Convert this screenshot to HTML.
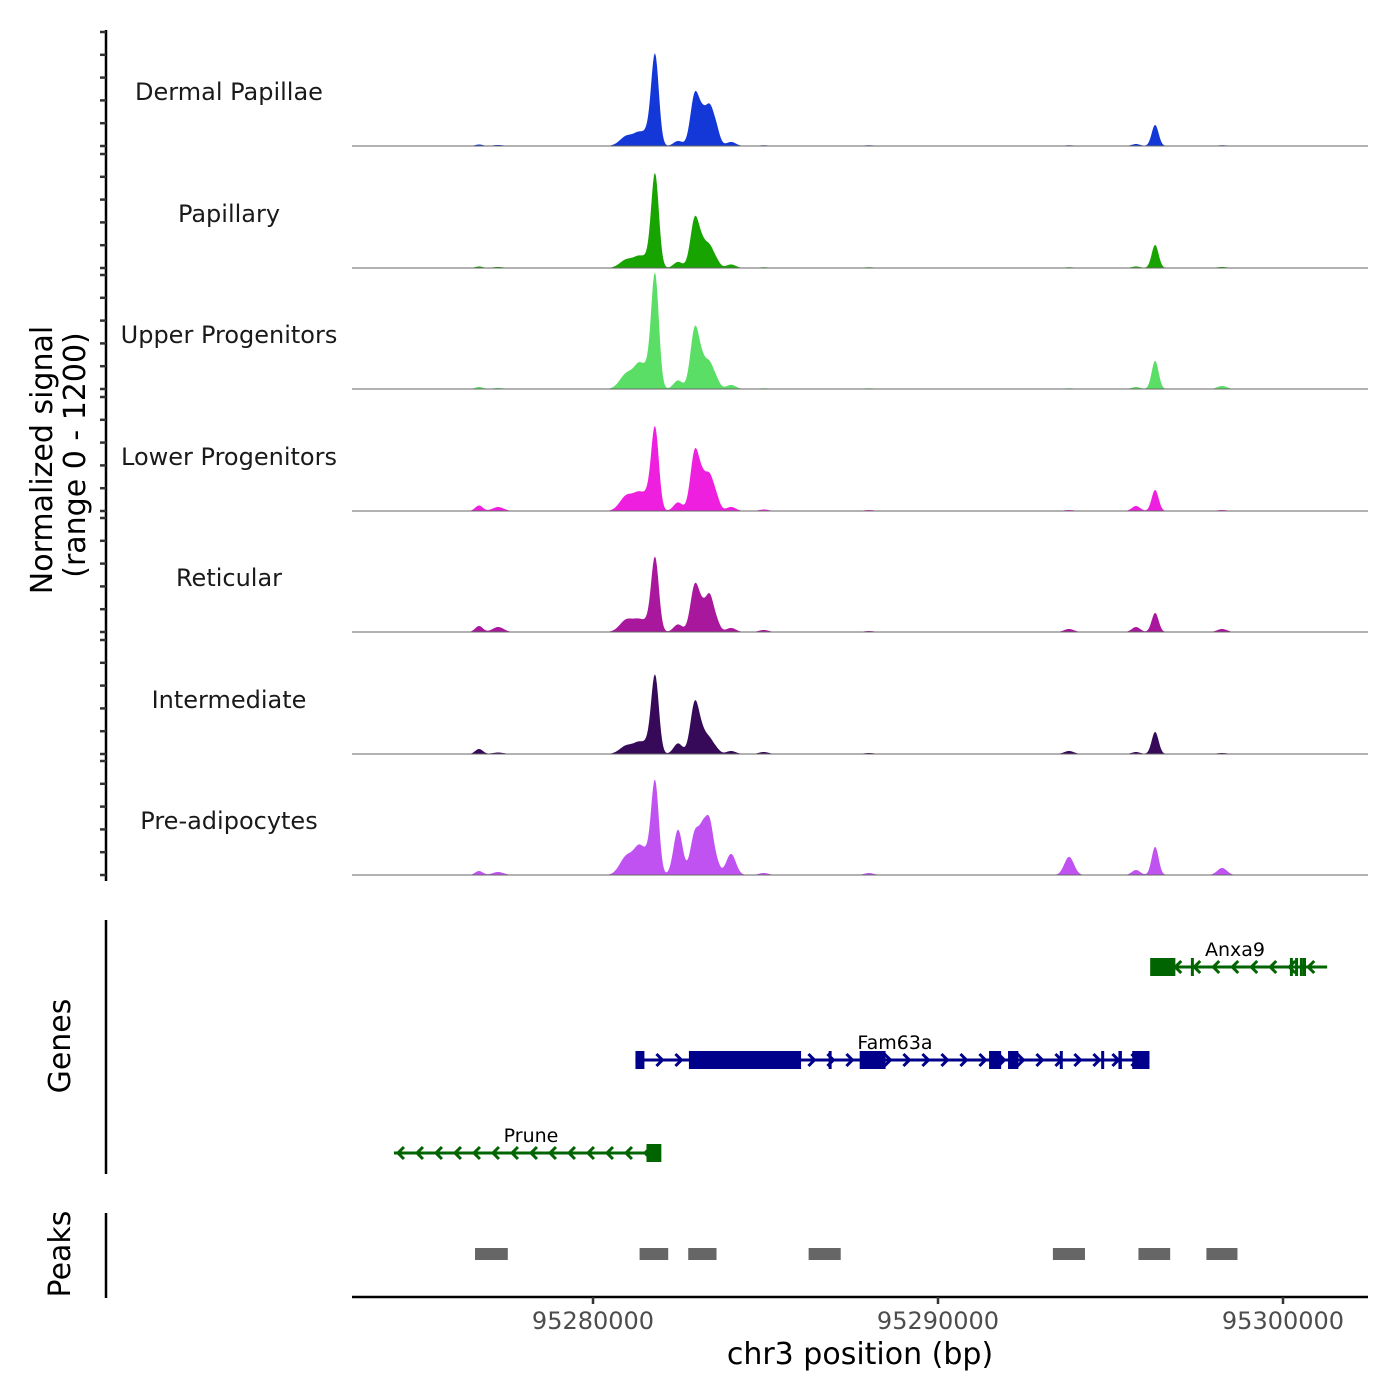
<!DOCTYPE html>
<html><head><meta charset="utf-8">
<style>
html,body{margin:0;padding:0;background:#fff;}
svg{display:block;font-family:"DejaVu Sans","Liberation Sans",sans-serif;}
</style></head>
<body>
<svg id="chart" width="1400" height="1400" viewBox="0 0 1400 1400" xmlns="http://www.w3.org/2000/svg">
<g id="tracks"></g>
<g id="genes"></g>
<g id="peaks"></g>
<g id="axes"></g>
</svg>
<script>
const trackNames = ["Dermal Papillae","Papillary","Upper Progenitors","Lower Progenitors","Reticular","Intermediate","Pre-adipocytes"];
const trackColors = ["#1438d8","#17a300","#5ade66","#ee1fde","#a8179c","#360a58","#c052f2"];
const peakPos = [95280986,95281362,95281600,95281798,95282465,95282957,95283200,95283380,95283550,95284000,95296294,95295740,95276696,95277250,95293800,95298235,95284950,95288000];
const peakWidth = [200,160,110,110,130,130,110,100,110,140,100,120,110,160,140,140,140,140];
const trackHeights = [
 [100,120,90,900,50,520,260,290,200,40,210,20,15,10,8,8,8,8],
 [85,105,60,930,60,500,190,160,90,35,230,15,15,10,8,10,8,8],
 [155,230,110,1130,85,610,210,190,110,40,280,20,20,10,8,30,8,8],
 [155,160,100,820,85,600,260,260,160,40,210,50,55,40,10,10,15,10],
 [125,105,60,735,75,470,200,290,130,40,190,50,60,50,30,30,20,10],
 [85,105,70,775,105,520,160,110,60,30,220,20,50,15,30,10,20,10],
 [190,260,110,920,450,420,400,420,150,210,280,50,40,30,180,70,20,20]
];
const xTicks = [95280000,95290000,95300000];
const geneNames = ["Anxa9","Fam63a","Prune"];
const geneStart = [95296210,95281230,95274230];
const geneEnd = [95301280,95296130,95281930];
const geneStrand = [-1,1,-1];
const geneRows = [0,1,2];
const geneExons = [
 [[95296150,95296880],[95297330,95297370],[95300200,95300240],[95300350,95300390],[95300490,95300530],[95300580,95300620]],
 [[95281230,95281490],[95282780,95286030],[95286830,95286880],[95287730,95288480],[95291480,95291830],[95292030,95292330],[95293530,95293590],[95294730,95294810],[95295230,95295330],[95295630,95296130]],
 [[95281550,95281980]]
];
const peakRegionStart = [95276580,95281350,95282760,95286250,95293330,95295810,95297780];
const peakRegionEnd = [95277530,95282180,95283580,95287180,95294260,95296730,95298680];

const NS="http://www.w3.org/2000/svg";
function mk(tag,attrs,parent){const e=document.createElementNS(NS,tag);for(const k in attrs)e.setAttribute(k,attrs[k]);parent.appendChild(e);return e;}
const X0=352,X1=1368,BP0=95273014,BP1=95302464;
function xs(bp){return X0+(bp-BP0)/(BP1-BP0)*(X1-X0);}
const baselines=[146,268,389,511,632,754,875];
function ys(v,i){return baselines[i]-v/1200*121;}

const tg=document.getElementById('tracks');
trackNames.forEach((name,i)=>{
  let d="M"+X0+","+baselines[i];
  for(let px=X0;px<=X1;px+=1){
    const bp=BP0+(px-X0)/(X1-X0)*(BP1-BP0);
    let v=0;
    for(let k=0;k<peakPos.length;k++){const z=(bp-peakPos[k])/peakWidth[k];v+=trackHeights[i][k]*Math.exp(-0.5*z*z);}
    d+=" L"+px+","+ys(Math.min(v,1200),i).toFixed(2);
  }
  d+=" L"+X1+","+baselines[i]+" Z";
  const p=mk('path',{d:d,fill:trackColors[i]},tg);
  
  
  const bl=mk('line',{x1:X0,x2:X1,y1:baselines[i],y2:baselines[i],stroke:"#666","stroke-width":1},tg);
  
  
  const t=mk('text',{x:229,y:baselines[i]-46,"font-size":24,fill:"#1a1a1a","text-anchor":"middle"},tg);
  t.textContent=name;
  
  
});

const ax=document.getElementById('axes');
mk('line',{x1:106,x2:106,y1:30,y2:881,stroke:"#000","stroke-width":2.5},ax);
baselines.forEach(b=>{for(let k=0;k<=5;k++){const y=b-k*22.8;const tk=mk('line',{x1:100,x2:106,y1:y,y2:y,stroke:"#333","stroke-width":2.5},ax);}});
let yt=mk('text',{transform:"translate(52,460) rotate(-90)","font-size":30,"text-anchor":"middle",fill:"#000"},ax);yt.textContent="Normalized signal";

yt=mk('text',{transform:"translate(85,455) rotate(-90)","font-size":30,"text-anchor":"middle",fill:"#000"},ax);yt.textContent="(range 0 - 1200)";

mk('line',{x1:106,x2:106,y1:920,y2:1174,stroke:"#000","stroke-width":2.5},ax);
let gt=mk('text',{transform:"translate(70,1046) rotate(-90)","font-size":30,"text-anchor":"middle"},ax);gt.textContent="Genes";

mk('line',{x1:106,x2:106,y1:1213,y2:1298,stroke:"#000","stroke-width":2.5},ax);
gt=mk('text',{transform:"translate(70,1254) rotate(-90)","font-size":30,"text-anchor":"middle"},ax);gt.textContent="Peaks";

mk('line',{x1:X0,x2:X1,y1:1297,y2:1297,stroke:"#000","stroke-width":2.5},ax);
xTicks.forEach(v=>{const x=xs(v);mk('line',{x1:x,x2:x,y1:1297,y2:1304,stroke:"#333","stroke-width":2.5},ax);
 const t=mk('text',{x:x,y:1329,"font-size":24,"text-anchor":"middle",fill:"#4d4d4d"},ax);t.textContent=v;
 });
const xt=mk('text',{x:860,y:1364,"font-size":30,"text-anchor":"middle"},ax);xt.textContent="chr3 position (bp)";


const gg=document.getElementById('genes');
const rowY=[967,1060,1153];
geneNames.forEach((g,i)=>{
  const y=rowY[geneRows[i]];const col=geneStrand[i]>0?"#00008b":"#006400";
  const grp=mk('g',{},gg);
  
  
  const a=xs(geneStart[i]),b=xs(geneEnd[i]);
  mk('line',{x1:a,x2:b,y1:y,y2:y,stroke:col,"stroke-width":3},grp);
  for(let x=a+6;x<b-3;x+=19){const s=geneStrand[i];
    mk('polyline',{points:`${x-4*s},${y-6} ${x+2*s},${y} ${x-4*s},${y+6}`,fill:"none",stroke:col,"stroke-width":3},grp);}
  geneExons[i].forEach(e=>{const ea=xs(e[0]),eb=xs(e[1]);mk('rect',{x:ea,y:y-9,width:Math.max(eb-ea,3),height:18,fill:col},grp);});
  const t=mk('text',{x:(i==0?1235:i==1?895:531),y:y-11,"font-size":19,"text-anchor":"middle",fill:"#000"},grp);t.textContent=g;
});

const pg=document.getElementById('peaks');
peakRegionStart.forEach((s,i)=>{const r=mk('rect',{x:xs(s),y:1248,width:xs(peakRegionEnd[i])-xs(s),height:12,fill:"#666"},pg);
 });
</script>
</body></html>
